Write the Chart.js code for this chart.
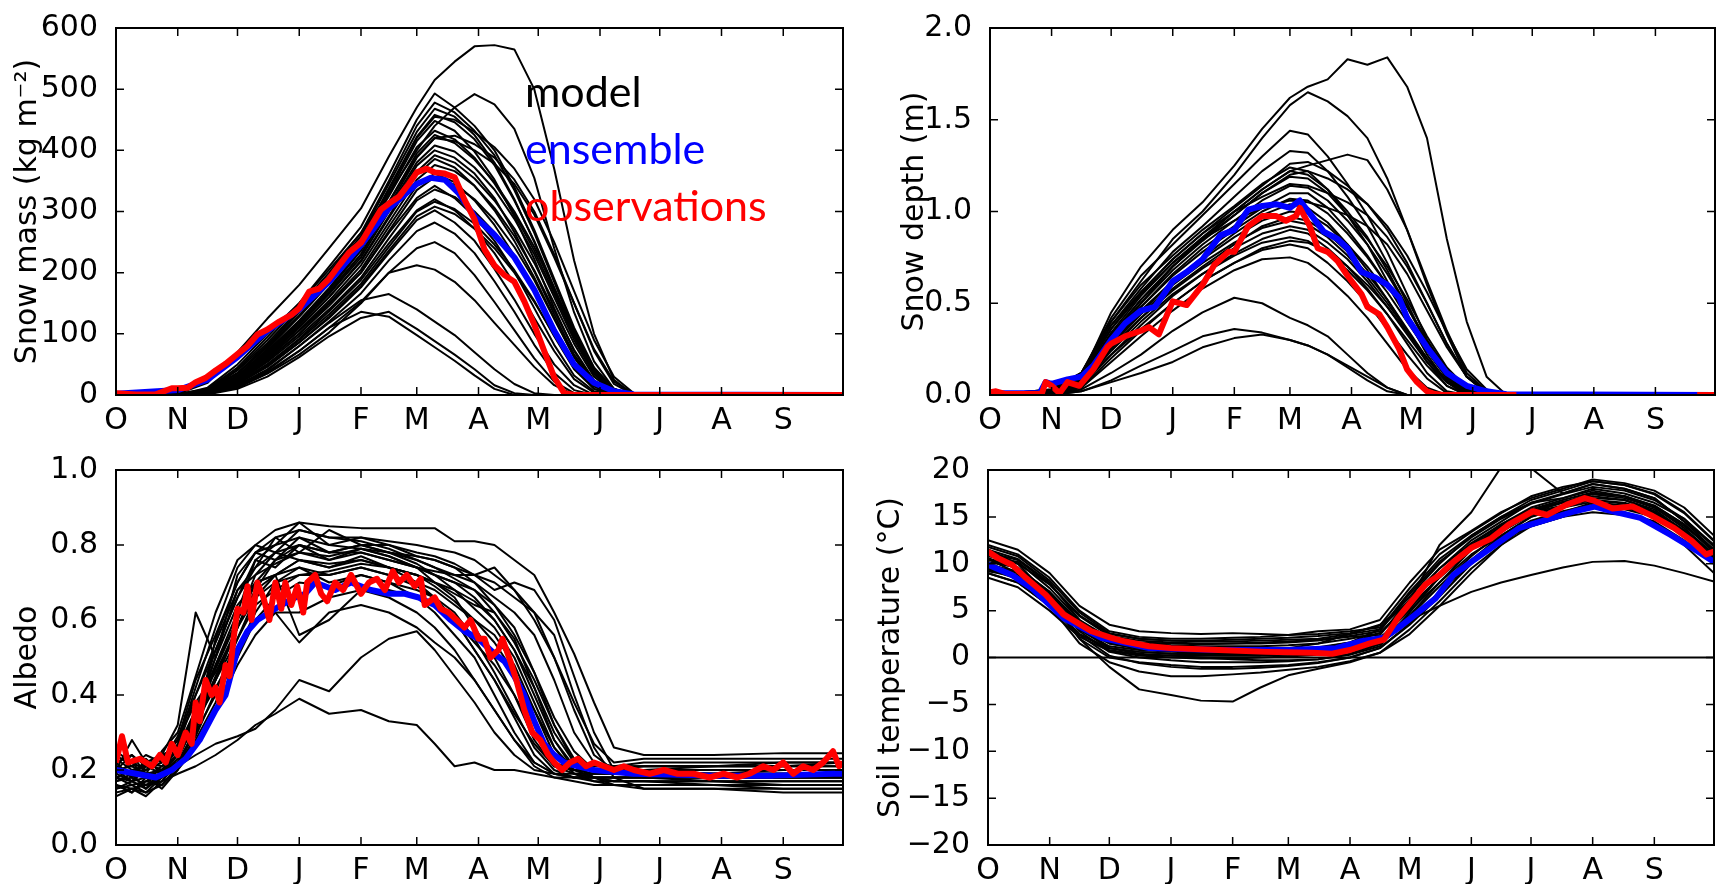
<!DOCTYPE html>
<html>
<head>
<meta charset="utf-8">
<script src="https://cdn.jsdelivr.net/npm/chart.js@4.4.1/dist/chart.umd.min.js"></script>
<style>
  body { margin: 0; background: #fff; width: 1719px; height: 884px; position: relative; overflow: hidden; }
  canvas { position: absolute; }
  .key { position: absolute; left: 525px; font-family: Lato, "Open Sans", sans-serif; font-size: 43px; line-height: 43px; white-space: nowrap; }
</style>
</head>
<body>
<canvas id="massChart" width="860" height="440" style="left:0;top:0"></canvas>
<canvas id="depthChart" width="849" height="440" style="left:870px;top:0"></canvas>
<canvas id="albedoChart" width="860" height="444" style="left:0;top:440px"></canvas>
<canvas id="soilChart" width="849" height="444" style="left:870px;top:440px"></canvas>
<div class="key" style="top:69px;color:#000">model</div>
<div class="key" style="top:126px;color:#0000ff">ensemble</div>
<div class="key" style="top:183px;color:#ff0000">observations</div>
<script>
// day of water year (0 = 1 Oct) and month labels
const monthDays = [0, 31, 61, 92, 123, 151, 182, 212, 243, 273, 304, 335];
const monthNames = ['O', 'N', 'D', 'J', 'F', 'M', 'A', 'M', 'J', 'J', 'A', 'S'];

// ---------- snow mass (kg m-2) ----------
const snowDays = [0, 31, 46, 61, 76, 92, 107, 123, 137, 151, 160, 170, 180, 190, 200, 210, 220, 230, 240, 250, 260, 365];
const massModels = [
  [0, 2, 20, 70, 125, 180, 240, 305, 390, 470, 515, 545, 570, 572, 565, 500, 370, 220, 100, 25, 0, 0],
  [0, 0, 12, 50, 100, 150, 205, 265, 330, 400, 440, 470, 492, 475, 435, 355, 240, 135, 55, 10, 0, 0],
  [0, 0, 10, 45, 95, 150, 210, 275, 360, 450, 493, 470, 440, 400, 340, 270, 190, 110, 45, 10, 0, 0],
  [0, 0, 8, 40, 85, 140, 195, 260, 345, 430, 468, 455, 425, 380, 320, 250, 170, 95, 35, 5, 0, 0],
  [0, 0, 6, 32, 75, 128, 182, 245, 330, 415, 448, 432, 398, 352, 292, 222, 142, 72, 22, 2, 0, 0],
  [0, 2, 10, 35, 78, 130, 185, 250, 325, 405, 432, 418, 388, 346, 296, 236, 166, 96, 42, 10, 0, 0],
  [0, 0, 6, 28, 66, 115, 165, 225, 300, 375, 400, 388, 362, 322, 266, 202, 132, 66, 22, 3, 0, 0],
  [0, 0, 5, 25, 62, 110, 160, 218, 290, 360, 386, 372, 342, 302, 252, 192, 126, 62, 16, 0, 0, 0],
  [0, 0, 4, 22, 58, 100, 150, 205, 275, 342, 362, 348, 318, 278, 228, 168, 102, 46, 10, 0, 0, 0],
  [0, 0, 5, 24, 60, 105, 150, 200, 265, 322, 342, 322, 292, 252, 202, 142, 82, 32, 6, 0, 0, 0],
  [0, 0, 4, 20, 50, 92, 137, 188, 248, 302, 320, 302, 272, 232, 182, 126, 72, 26, 4, 0, 0, 0],
  [0, 0, 3, 18, 46, 86, 126, 176, 232, 286, 302, 282, 252, 206, 156, 100, 50, 16, 0, 0, 0, 0],
  [0, 0, 3, 16, 42, 80, 120, 166, 220, 268, 282, 264, 232, 186, 136, 82, 36, 8, 0, 0, 0, 0],
  [0, 0, 2, 14, 38, 72, 110, 152, 200, 240, 250, 232, 196, 152, 106, 60, 22, 3, 0, 0, 0, 0],
  [0, 0, 2, 12, 35, 66, 102, 150, 200, 212, 205, 185, 155, 118, 82, 46, 16, 0, 0, 0, 0, 0],
  [0, 0, 2, 12, 36, 72, 110, 136, 128, 98, 78, 56, 32, 10, 0, 0, 0, 0, 0, 0, 0, 0],
  [0, 0, 1, 10, 30, 62, 96, 126, 136, 108, 88, 66, 42, 16, 3, 0, 0, 0, 0, 0, 0, 0],
  [0, 0, 3, 14, 40, 80, 118, 155, 165, 140, 120, 98, 70, 42, 18, 3, 0, 0, 0, 0, 0, 0],
  [0, 0, 7, 35, 80, 135, 190, 255, 335, 420, 455, 450, 430, 405, 370, 320, 250, 170, 90, 30, 3, 0],
  [0, 0, 5, 30, 72, 122, 175, 238, 315, 390, 420, 415, 400, 378, 345, 295, 225, 150, 75, 22, 2, 0],
  [0, 0, 9, 42, 90, 145, 200, 265, 350, 440, 478, 462, 432, 392, 335, 265, 185, 105, 40, 8, 0, 0],
  [0, 0, 7, 36, 82, 136, 190, 252, 338, 422, 458, 446, 418, 376, 318, 252, 176, 100, 38, 6, 0, 0],
  [0, 0, 6, 30, 72, 120, 172, 236, 316, 395, 425, 412, 385, 348, 300, 242, 174, 104, 44, 10, 0, 0],
  [0, 0, 5, 27, 68, 118, 168, 230, 305, 380, 408, 398, 372, 336, 288, 230, 160, 90, 34, 5, 0, 0],
  [0, 0, 5, 26, 64, 112, 160, 220, 292, 365, 392, 380, 354, 318, 272, 216, 150, 84, 30, 4, 0, 0],
  [0, 0, 4, 24, 60, 106, 154, 212, 282, 352, 376, 366, 342, 306, 260, 204, 138, 74, 24, 2, 0, 0],
  [0, 0, 4, 22, 56, 100, 146, 200, 268, 335, 356, 344, 320, 286, 242, 188, 124, 62, 18, 0, 0, 0],
  [0, 0, 4, 21, 54, 96, 140, 192, 256, 318, 336, 324, 300, 266, 224, 172, 110, 52, 14, 0, 0, 0],
  [0, 0, 3, 19, 50, 90, 132, 182, 242, 300, 316, 304, 280, 246, 204, 154, 96, 42, 10, 0, 0, 0],
  [0, 0, 3, 18, 48, 86, 128, 178, 236, 292, 308, 296, 272, 240, 200, 152, 98, 46, 14, 0, 0, 0],
  [0, 0, 6, 30, 70, 118, 168, 230, 308, 388, 420, 424, 410, 388, 352, 300, 230, 150, 72, 18, 0, 0]
];
const ensMassDays = [0, 31, 46, 61, 76, 92, 107, 123, 137, 151, 158, 165, 172, 180, 190, 200, 210, 220, 230, 240, 250, 260, 365];
const ensMass = [2, 8, 25, 62, 105, 140, 185, 245, 305, 345, 355, 352, 330, 292, 262, 225, 172, 105, 50, 20, 6, 1, 0];
const obsMassDays = [0, 10, 20, 28, 31, 36, 40, 45, 50, 55, 61, 66, 71, 76, 82, 88, 92, 97, 102, 107, 112, 117, 123, 128, 133, 137, 142, 147, 151, 156, 160, 165, 170, 175, 180, 185, 190, 195, 200, 205, 210, 215, 220, 225, 230, 365];
const obsMass = [3, 1, 1, 11, 11, 12, 21, 28, 40, 51, 67, 80, 99, 107, 120, 131, 142, 169, 174, 190, 212, 233, 249, 276, 303, 313, 324, 345, 364, 370, 364, 362, 356, 319, 287, 238, 212, 196, 185, 153, 115, 72, 29, 3, 0, 0];

// ---------- snow depth (m) ----------
const depthModels = [
  [0, 0.02, 0.10, 0.45, 0.70, 0.90, 1.05, 1.25, 1.45, 1.62, 1.68, 1.72, 1.83, 1.80, 1.84, 1.68, 1.40, 0.85, 0.40, 0.10, 0, 0],
  [0, 0.02, 0.12, 0.40, 0.62, 0.85, 1.00, 1.20, 1.40, 1.58, 1.65, 1.60, 1.52, 1.40, 1.18, 0.90, 0.60, 0.33, 0.10, 0.01, 0, 0],
  [0, 0.03, 0.12, 0.42, 0.65, 0.82, 0.98, 1.15, 1.30, 1.44, 1.42, 1.30, 1.15, 0.98, 0.78, 0.55, 0.30, 0.12, 0.03, 0, 0, 0],
  [0, 0.02, 0.08, 0.30, 0.50, 0.70, 0.85, 1.00, 1.12, 1.22, 1.25, 1.28, 1.31, 1.28, 1.12, 0.90, 0.62, 0.35, 0.12, 0.02, 0, 0],
  [0, 0.02, 0.10, 0.38, 0.58, 0.78, 0.92, 1.08, 1.22, 1.33, 1.32, 1.22, 1.08, 0.92, 0.72, 0.50, 0.28, 0.10, 0.02, 0, 0, 0],
  [0, 0.03, 0.12, 0.40, 0.60, 0.76, 0.90, 1.03, 1.15, 1.24, 1.22, 1.12, 0.98, 0.82, 0.62, 0.42, 0.22, 0.07, 0, 0, 0, 0],
  [0, 0.02, 0.08, 0.32, 0.52, 0.70, 0.85, 0.98, 1.10, 1.19, 1.18, 1.10, 0.98, 0.85, 0.70, 0.52, 0.32, 0.15, 0.04, 0, 0, 0],
  [0, 0.02, 0.08, 0.30, 0.48, 0.66, 0.80, 0.92, 1.02, 1.10, 1.10, 1.02, 0.90, 0.76, 0.60, 0.42, 0.24, 0.09, 0.01, 0, 0, 0],
  [0, 0.01, 0.06, 0.28, 0.45, 0.62, 0.75, 0.88, 0.98, 1.04, 1.02, 0.94, 0.82, 0.68, 0.52, 0.35, 0.18, 0.05, 0, 0, 0, 0],
  [0, 0.01, 0.05, 0.25, 0.42, 0.58, 0.70, 0.82, 0.92, 0.97, 0.95, 0.88, 0.78, 0.66, 0.52, 0.36, 0.20, 0.07, 0, 0, 0, 0],
  [0, 0.01, 0.05, 0.22, 0.38, 0.54, 0.66, 0.77, 0.85, 0.90, 0.88, 0.80, 0.70, 0.58, 0.44, 0.28, 0.12, 0.02, 0, 0, 0, 0],
  [0, 0.01, 0.04, 0.20, 0.35, 0.50, 0.62, 0.72, 0.79, 0.82, 0.80, 0.72, 0.62, 0.50, 0.36, 0.22, 0.09, 0.01, 0, 0, 0, 0],
  [0, 0, 0.04, 0.18, 0.32, 0.46, 0.58, 0.68, 0.74, 0.75, 0.72, 0.64, 0.54, 0.42, 0.28, 0.14, 0.04, 0, 0, 0, 0, 0],
  [0, 0, 0.03, 0.12, 0.22, 0.35, 0.45, 0.53, 0.50, 0.42, 0.38, 0.32, 0.22, 0.12, 0.04, 0, 0, 0, 0, 0, 0, 0],
  [0, 0, 0.02, 0.08, 0.16, 0.24, 0.32, 0.36, 0.34, 0.30, 0.27, 0.22, 0.15, 0.08, 0.02, 0, 0, 0, 0, 0, 0, 0],
  [0, 0, 0.02, 0.07, 0.12, 0.18, 0.26, 0.31, 0.33, 0.30, 0.27, 0.22, 0.16, 0.10, 0.04, 0, 0, 0, 0, 0, 0, 0],
  [0, 0.02, 0.10, 0.36, 0.55, 0.72, 0.85, 0.95, 1.02, 1.06, 1.05, 1.02, 0.98, 0.92, 0.82, 0.66, 0.46, 0.26, 0.10, 0.02, 0, 0],
  [0, 0.03, 0.12, 0.38, 0.56, 0.74, 0.88, 1.00, 1.08, 1.15, 1.14, 1.10, 1.05, 0.98, 0.86, 0.70, 0.50, 0.28, 0.10, 0.01, 0, 0],
  [0, 0.02, 0.09, 0.34, 0.54, 0.72, 0.86, 1.00, 1.12, 1.22, 1.20, 1.12, 1.00, 0.86, 0.68, 0.48, 0.28, 0.12, 0.03, 0, 0, 0],
  [0, 0.02, 0.08, 0.32, 0.50, 0.68, 0.82, 0.95, 1.06, 1.14, 1.13, 1.06, 0.95, 0.82, 0.66, 0.48, 0.30, 0.14, 0.04, 0, 0, 0],
  [0, 0.01, 0.07, 0.30, 0.48, 0.65, 0.78, 0.90, 1.00, 1.07, 1.06, 0.99, 0.88, 0.75, 0.60, 0.44, 0.27, 0.12, 0.03, 0, 0, 0],
  [0, 0.01, 0.07, 0.28, 0.46, 0.62, 0.74, 0.86, 0.95, 1.00, 0.99, 0.92, 0.82, 0.70, 0.56, 0.40, 0.24, 0.10, 0.02, 0, 0, 0],
  [0, 0.01, 0.06, 0.27, 0.44, 0.60, 0.72, 0.83, 0.91, 0.95, 0.93, 0.86, 0.76, 0.64, 0.50, 0.35, 0.20, 0.08, 0.01, 0, 0, 0],
  [0, 0.01, 0.06, 0.26, 0.42, 0.57, 0.69, 0.80, 0.88, 0.92, 0.90, 0.83, 0.74, 0.62, 0.48, 0.33, 0.18, 0.07, 0.01, 0, 0, 0],
  [0, 0.01, 0.05, 0.24, 0.40, 0.55, 0.66, 0.76, 0.83, 0.86, 0.84, 0.77, 0.68, 0.57, 0.44, 0.30, 0.16, 0.05, 0, 0, 0, 0],
  [0, 0.02, 0.10, 0.36, 0.56, 0.74, 0.88, 1.02, 1.14, 1.26, 1.27, 1.22, 1.14, 1.04, 0.90, 0.72, 0.50, 0.28, 0.10, 0.02, 0, 0],
  [0, 0.02, 0.09, 0.33, 0.52, 0.70, 0.84, 0.98, 1.10, 1.20, 1.22, 1.18, 1.12, 1.04, 0.92, 0.76, 0.56, 0.34, 0.14, 0.03, 0, 0],
  [0, 0.01, 0.05, 0.22, 0.36, 0.50, 0.62, 0.72, 0.80, 0.84, 0.83, 0.78, 0.70, 0.60, 0.48, 0.34, 0.20, 0.08, 0.01, 0, 0, 0]
];
const ensDepthDays = [0, 25, 28, 31, 39, 46, 52, 61, 68, 76, 83, 92, 99, 107, 116, 123, 130, 137, 144, 151, 156, 161, 168, 175, 180, 187, 194, 200, 206, 210, 220, 230, 240, 250, 260, 365];
const ensDepth = [0.01, 0.01, 0.07, 0.06, 0.085, 0.10, 0.16, 0.30, 0.39, 0.46, 0.48, 0.62, 0.67, 0.74, 0.87, 0.90, 1.01, 1.03, 1.04, 1.02, 1.06, 0.99, 0.89, 0.85, 0.80, 0.67, 0.64, 0.60, 0.53, 0.42, 0.26, 0.12, 0.05, 0.02, 0.004, 0];
// no depth observations between day 266 and 355
const obsDepthDays = [0, 3, 8, 26, 28, 31, 35, 39, 45, 52, 59, 61, 68, 76, 80, 85, 90, 92, 99, 107, 113, 120, 123, 130, 137, 144, 149, 154, 156, 161, 165, 170, 175, 180, 187, 190, 196, 200, 206, 210, 215, 220, 224, 228, 265, 266, 355, 356, 365];
const obsDepth = [0.015, 0.02, 0.005, 0.005, 0.07, 0.05, 0.01, 0.07, 0.05, 0.14, 0.26, 0.28, 0.32, 0.35, 0.37, 0.33, 0.46, 0.51, 0.49, 0.60, 0.71, 0.78, 0.78, 0.92, 0.975, 0.975, 0.95, 0.975, 1.02, 0.92, 0.80, 0.78, 0.73, 0.65, 0.55, 0.48, 0.44, 0.37, 0.25, 0.14, 0.07, 0.02, 0.005, 0, 0, null, null, 0, 0];

// ---------- albedo ----------
const albDays = [0, 8, 15, 23, 31, 40, 50, 61, 70, 80, 92, 107, 123, 137, 151, 160, 170, 180, 190, 200, 210, 220, 230, 240, 250, 265, 300, 335, 365];
const albedoModels = [
  [0.20, 0.24, 0.19, 0.25, 0.30, 0.45, 0.62, 0.76, 0.80, 0.84, 0.86, 0.85, 0.845, 0.845, 0.845, 0.845, 0.81, 0.81, 0.80, 0.76, 0.72, 0.62, 0.51, 0.38, 0.26, 0.24, 0.24, 0.245, 0.245],
  [0.16, 0.14, 0.18, 0.15, 0.20, 0.32, 0.55, 0.70, 0.78, 0.80, 0.86, 0.80, 0.82, 0.80, 0.78, 0.77, 0.75, 0.72, 0.68, 0.70, 0.68, 0.60, 0.45, 0.30, 0.20, 0.18, 0.17, 0.17, 0.17],
  [0.22, 0.18, 0.22, 0.20, 0.26, 0.40, 0.52, 0.66, 0.74, 0.82, 0.78, 0.84, 0.80, 0.80, 0.77, 0.76, 0.74, 0.72, 0.74, 0.68, 0.62, 0.50, 0.36, 0.24, 0.20, 0.21, 0.21, 0.21, 0.22],
  [0.14, 0.15, 0.13, 0.17, 0.22, 0.30, 0.48, 0.62, 0.76, 0.74, 0.80, 0.78, 0.78, 0.76, 0.74, 0.72, 0.70, 0.68, 0.64, 0.58, 0.46, 0.32, 0.22, 0.18, 0.16, 0.15, 0.15, 0.14, 0.14],
  [0.25, 0.22, 0.20, 0.23, 0.28, 0.38, 0.46, 0.58, 0.70, 0.72, 0.76, 0.74, 0.77, 0.74, 0.72, 0.70, 0.67, 0.64, 0.62, 0.55, 0.42, 0.28, 0.21, 0.20, 0.20, 0.20, 0.19, 0.20, 0.20],
  [0.18, 0.16, 0.17, 0.19, 0.24, 0.36, 0.44, 0.55, 0.64, 0.68, 0.72, 0.72, 0.74, 0.72, 0.70, 0.68, 0.64, 0.60, 0.56, 0.48, 0.36, 0.24, 0.19, 0.18, 0.18, 0.18, 0.18, 0.18, 0.18],
  [0.20, 0.21, 0.19, 0.20, 0.22, 0.30, 0.40, 0.50, 0.60, 0.66, 0.70, 0.69, 0.72, 0.70, 0.68, 0.66, 0.62, 0.55, 0.46, 0.36, 0.26, 0.20, 0.18, 0.17, 0.17, 0.17, 0.16, 0.16, 0.16],
  [0.13, 0.15, 0.14, 0.16, 0.20, 0.26, 0.36, 0.48, 0.56, 0.62, 0.62, 0.66, 0.68, 0.68, 0.66, 0.64, 0.60, 0.52, 0.44, 0.34, 0.24, 0.19, 0.18, 0.18, 0.18, 0.18, 0.18, 0.18, 0.18],
  [0.21, 0.19, 0.22, 0.21, 0.24, 0.34, 0.50, 0.68, 0.74, 0.78, 0.76, 0.74, 0.76, 0.74, 0.70, 0.66, 0.60, 0.54, 0.48, 0.40, 0.30, 0.22, 0.20, 0.20, 0.21, 0.21, 0.21, 0.22, 0.22],
  [0.17, 0.18, 0.16, 0.18, 0.23, 0.33, 0.45, 0.58, 0.66, 0.72, 0.74, 0.70, 0.72, 0.70, 0.66, 0.62, 0.56, 0.50, 0.40, 0.30, 0.22, 0.19, 0.19, 0.19, 0.19, 0.19, 0.19, 0.19, 0.19],
  [0.15, 0.17, 0.15, 0.18, 0.21, 0.28, 0.38, 0.52, 0.60, 0.62, 0.54, 0.62, 0.64, 0.62, 0.58, 0.54, 0.50, 0.44, 0.36, 0.28, 0.21, 0.18, 0.17, 0.16, 0.16, 0.16, 0.16, 0.15, 0.15],
  [0.23, 0.20, 0.21, 0.24, 0.26, 0.36, 0.48, 0.60, 0.70, 0.76, 0.80, 0.78, 0.80, 0.78, 0.76, 0.74, 0.72, 0.70, 0.66, 0.62, 0.56, 0.44, 0.30, 0.22, 0.21, 0.22, 0.22, 0.22, 0.22],
  [0.16, 0.15, 0.16, 0.17, 0.19, 0.21, 0.24, 0.28, 0.32, 0.35, 0.39, 0.35, 0.36, 0.33, 0.32, 0.27, 0.21, 0.22, 0.20, 0.20, 0.19, 0.18, 0.18, 0.18, 0.17, 0.17, 0.17, 0.16, 0.16],
  [0.18, 0.17, 0.18, 0.19, 0.21, 0.24, 0.27, 0.29, 0.31, 0.36, 0.44, 0.41, 0.50, 0.55, 0.57, 0.52, 0.45, 0.38, 0.30, 0.24, 0.20, 0.19, 0.18, 0.18, 0.18, 0.18, 0.18, 0.18, 0.18],
  [0.20, 0.28, 0.22, 0.24, 0.32, 0.62, 0.50, 0.72, 0.78, 0.76, 0.82, 0.80, 0.79, 0.77, 0.74, 0.70, 0.66, 0.58, 0.50, 0.40, 0.28, 0.21, 0.20, 0.20, 0.20, 0.20, 0.21, 0.21, 0.21],
  [0.19, 0.17, 0.20, 0.22, 0.25, 0.36, 0.50, 0.64, 0.70, 0.72, 0.56, 0.60, 0.68, 0.66, 0.62, 0.58, 0.52, 0.44, 0.36, 0.28, 0.22, 0.19, 0.18, 0.18, 0.18, 0.18, 0.18, 0.18, 0.18],
  [0.18, 0.20, 0.18, 0.20, 0.24, 0.32, 0.44, 0.58, 0.68, 0.76, 0.78, 0.76, 0.78, 0.76, 0.74, 0.73, 0.72, 0.72, 0.70, 0.66, 0.62, 0.56, 0.40, 0.26, 0.18, 0.15, 0.15, 0.15, 0.15],
  [0.21, 0.18, 0.23, 0.19, 0.27, 0.42, 0.58, 0.74, 0.80, 0.78, 0.84, 0.82, 0.81, 0.79, 0.76, 0.74, 0.71, 0.68, 0.62, 0.54, 0.44, 0.32, 0.23, 0.20, 0.20, 0.20, 0.20, 0.20, 0.20],
  [0.17, 0.19, 0.15, 0.20, 0.24, 0.35, 0.52, 0.66, 0.76, 0.80, 0.82, 0.78, 0.80, 0.78, 0.75, 0.72, 0.68, 0.63, 0.58, 0.50, 0.38, 0.26, 0.20, 0.19, 0.19, 0.19, 0.19, 0.19, 0.19],
  [0.24, 0.21, 0.24, 0.22, 0.29, 0.40, 0.54, 0.68, 0.72, 0.78, 0.80, 0.76, 0.79, 0.77, 0.74, 0.72, 0.70, 0.66, 0.60, 0.52, 0.42, 0.30, 0.22, 0.21, 0.21, 0.21, 0.21, 0.21, 0.21],
  [0.15, 0.16, 0.14, 0.18, 0.22, 0.31, 0.44, 0.58, 0.68, 0.72, 0.76, 0.75, 0.76, 0.74, 0.72, 0.69, 0.65, 0.60, 0.54, 0.46, 0.36, 0.26, 0.19, 0.17, 0.16, 0.16, 0.16, 0.16, 0.16],
  [0.19, 0.22, 0.18, 0.21, 0.25, 0.34, 0.47, 0.60, 0.72, 0.75, 0.78, 0.77, 0.79, 0.78, 0.77, 0.76, 0.74, 0.70, 0.64, 0.56, 0.46, 0.34, 0.25, 0.20, 0.19, 0.19, 0.19, 0.19, 0.19],
  [0.20, 0.17, 0.21, 0.19, 0.23, 0.33, 0.42, 0.52, 0.62, 0.70, 0.74, 0.72, 0.74, 0.72, 0.69, 0.66, 0.60, 0.52, 0.44, 0.35, 0.27, 0.21, 0.19, 0.19, 0.19, 0.19, 0.19, 0.19, 0.19],
  [0.16, 0.14, 0.17, 0.16, 0.21, 0.29, 0.41, 0.55, 0.66, 0.70, 0.72, 0.73, 0.75, 0.74, 0.72, 0.70, 0.68, 0.65, 0.60, 0.52, 0.40, 0.28, 0.20, 0.18, 0.17, 0.17, 0.17, 0.17, 0.17],
  [0.22, 0.24, 0.21, 0.23, 0.28, 0.44, 0.56, 0.70, 0.78, 0.82, 0.84, 0.82, 0.82, 0.81, 0.80, 0.79, 0.78, 0.76, 0.72, 0.68, 0.60, 0.50, 0.38, 0.27, 0.22, 0.23, 0.23, 0.23, 0.23]
];
const ensAlbDays = [0, 10, 20, 28, 35, 42, 50, 55, 61, 66, 71, 77, 83, 90, 95, 100, 110, 118, 128, 137, 145, 152, 160, 168, 175, 182, 190, 195, 200, 205, 210, 215, 220, 225, 232, 240, 260, 300, 330, 360, 365];
const ensAlbedo = [0.20, 0.19, 0.18, 0.20, 0.23, 0.28, 0.36, 0.40, 0.52, 0.57, 0.60, 0.62, 0.64, 0.66, 0.67, 0.70, 0.68, 0.70, 0.68, 0.67, 0.67, 0.66, 0.64, 0.60, 0.57, 0.55, 0.51, 0.49, 0.45, 0.40, 0.33, 0.27, 0.24, 0.22, 0.21, 0.20, 0.19, 0.185, 0.185, 0.19, 0.19];
const obsAlbDays = [0, 3, 6, 12, 18, 22, 25, 28, 31, 35, 38, 40, 42, 45, 48, 50, 52, 55, 57, 59, 61, 64, 66, 68, 71, 74, 77, 80, 83, 85, 88, 91, 94, 96, 100, 103, 106, 110, 114, 118, 123, 127, 131, 135, 139, 142, 146, 150, 153, 155, 160, 163, 167, 171, 175, 178, 182, 185, 188, 192, 194, 198, 201, 205, 209, 213, 217, 220, 224, 228, 232, 236, 240, 245, 250, 255, 260, 268, 275, 282, 290, 298, 305, 312, 318, 325, 330, 335, 340, 345, 350, 355, 360, 363, 365];
const obsAlbedo = [0.22, 0.29, 0.22, 0.23, 0.21, 0.24, 0.22, 0.27, 0.24, 0.30, 0.27, 0.38, 0.33, 0.44, 0.40, 0.42, 0.38, 0.48, 0.45, 0.55, 0.63, 0.62, 0.69, 0.60, 0.70, 0.66, 0.60, 0.70, 0.63, 0.70, 0.64, 0.69, 0.62, 0.70, 0.72, 0.67, 0.65, 0.70, 0.68, 0.72, 0.67, 0.70, 0.71, 0.68, 0.73, 0.70, 0.72, 0.69, 0.71, 0.64, 0.66, 0.63, 0.62, 0.60, 0.58, 0.60, 0.55, 0.55, 0.50, 0.52, 0.55, 0.49, 0.44, 0.36, 0.30, 0.28, 0.24, 0.22, 0.20, 0.22, 0.23, 0.21, 0.22, 0.21, 0.20, 0.21, 0.20, 0.19, 0.20, 0.19, 0.19, 0.18, 0.19, 0.18, 0.19, 0.21, 0.20, 0.22, 0.19, 0.21, 0.20, 0.22, 0.25, 0.21, 0.22];

// ---------- soil temperature (degC) ----------
const soilDays = [0, 15, 31, 46, 61, 76, 92, 107, 123, 137, 151, 166, 182, 197, 212, 227, 243, 258, 273, 289, 304, 320, 335, 350, 365];
const soilModels = [
  [12.5, 11.5, 9.0, 5.5, 3.5, 2.8, 2.6, 2.5, 2.6, 2.5, 2.4, 2.5, 2.8, 3.2, 6.0, 9.5, 12.5, 14.5, 16.5, 17.5, 18.5, 18.0, 17.0, 14.5, 12.0],
  [11.0, 10.0, 7.8, 4.5, 2.5, 2.0, 1.8, 1.7, 1.7, 1.8, 1.9, 2.0, 2.5, 3.0, 6.5, 10.0, 13.0, 15.0, 16.8, 17.8, 18.8, 18.4, 17.5, 15.5, 12.5],
  [10.5, 9.5, 7.0, 3.8, 2.0, 1.5, 1.3, 1.2, 1.2, 1.2, 1.3, 1.5, 2.0, 2.6, 5.5, 8.5, 11.5, 13.5, 15.5, 16.5, 17.5, 17.2, 16.0, 14.0, 11.5],
  [9.5, 8.5, 6.0, 3.0, 1.2, 0.8, 0.6, 0.5, 0.5, 0.5, 0.6, 0.8, 1.2, 2.0, 5.0, 8.0, 11.0, 13.0, 15.0, 16.0, 17.0, 16.8, 15.8, 13.5, 11.0],
  [9.0, 8.0, 5.5, 2.5, 0.8, 0.3, 0.2, 0.2, 0.2, 0.2, 0.3, 0.5, 1.0, 1.8, 4.0, 7.0, 10.0, 12.5, 14.5, 15.5, 16.0, 15.8, 15.0, 13.0, 10.5],
  [10.0, 9.0, 6.0, 2.0, 0.0, -0.5, -0.8, -1.0, -1.0, -0.9, -0.8, -0.5, 0.0, 1.0, 3.5, 6.5, 10.0, 12.5, 14.0, 15.0, 15.5, 15.2, 14.5, 12.5, 10.0],
  [10.5, 9.0, 5.5, 1.5, -0.5, -1.5, -2.0, -2.0, -1.8, -1.6, -1.3, -1.0, -0.4, 0.5, 3.0, 6.0, 9.5, 12.0, 14.0, 15.0, 16.0, 15.5, 14.5, 12.0, 9.0],
  [11.5, 10.0, 6.5, 2.0, -1.0, -3.4, -4.0, -4.6, -4.7, -3.2, -1.9, -1.2, -0.5, 0.5, 2.5, 5.5, 9.0, 12.0, 14.5, 15.5, 16.5, 16.2, 15.5, 13.0, 10.0],
  [10.0, 9.0, 6.5, 3.0, 1.5, 1.0, 0.8, 0.7, 0.7, 0.8, 1.0, 1.5, 2.5, 3.5, 6.0, 12.0, 15.5, 20.3, 20.2, 17.5, 18.5, 18.0, 17.0, 14.5, 11.5],
  [9.0, 8.0, 5.5, 2.5, 1.0, 0.6, 0.4, 0.4, 0.4, 0.4, 0.5, 0.8, 1.4, 2.2, 4.0, 5.5, 7.0, 8.0, 8.8, 9.6, 10.2, 10.3, 9.8, 9.0, 8.1],
  [8.5, 7.5, 5.0, 2.2, 0.7, 0.2, 0.0, -0.1, -0.1, 0.0, 0.1, 0.3, 0.8, 1.8, 4.5, 8.0, 11.5, 14.0, 15.5, 16.2, 16.8, 16.5, 15.5, 13.5, 10.5],
  [12.0, 11.0, 8.5, 5.0, 2.8, 2.2, 2.0, 2.0, 2.1, 2.2, 2.4, 2.8, 3.0, 4.0, 8.0, 11.5, 13.5, 15.5, 17.0, 18.0, 19.0, 18.6, 17.8, 16.0, 13.0],
  [11.5, 10.5, 8.0, 4.0, 1.8, 1.0, 0.8, 0.6, 0.6, 0.6, 0.7, 1.0, 1.6, 3.0, 7.0, 10.5, 13.0, 15.0, 16.5, 17.0, 18.0, 17.5, 16.5, 14.8, 12.0],
  [9.8, 9.2, 6.8, 3.4, 1.5, 0.9, 0.7, 0.6, 0.5, 0.4, 0.3, 0.3, 0.6, 1.5, 3.8, 7.0, 10.2, 12.8, 14.6, 15.6, 16.3, 16.0, 15.0, 13.2, 10.8],
  [10.8, 10.2, 7.4, 4.0, 2.1, 1.6, 1.5, 1.4, 1.5, 1.6, 1.7, 1.9, 2.2, 2.4, 6.2, 9.5, 12.2, 14.2, 16.0, 17.0, 17.8, 17.2, 16.2, 14.2, 11.2],
  [9.2, 8.6, 6.3, 3.2, 1.0, 0.4, 0.2, 0.0, -0.2, -0.3, -0.3, -0.2, 0.3, 1.2, 4.8, 8.6, 11.8, 14.0, 15.8, 16.6, 17.2, 16.8, 15.6, 13.6, 10.6],
  [10.2, 9.6, 7.0, 3.6, 1.6, 1.1, 0.9, 0.8, 0.8, 0.8, 0.9, 1.1, 1.6, 2.6, 5.8, 9.0, 12.0, 14.2, 15.8, 16.8, 17.6, 17.2, 16.2, 14.2, 11.4],
  [11.2, 10.4, 7.8, 4.4, 2.3, 1.8, 1.6, 1.5, 1.5, 1.5, 1.6, 1.8, 2.3, 2.8, 6.8, 10.2, 12.8, 14.8, 16.4, 17.4, 18.2, 17.8, 16.8, 14.8, 11.8],
  [9.6, 8.8, 6.2, 2.8, 0.6, 0.0, -0.3, -0.5, -0.5, -0.5, -0.4, -0.2, 0.4, 1.4, 4.4, 7.6, 10.8, 13.4, 15.2, 16.2, 16.8, 16.4, 15.4, 13.2, 10.4],
  [10.6, 9.6, 6.6, 3.0, 1.0, 0.6, 0.4, 0.3, 0.3, 0.3, 0.4, 0.6, 1.1, 2.0, 5.2, 8.6, 11.6, 13.8, 15.6, 16.6, 17.4, 17.0, 16.0, 13.8, 11.0],
  [9.4, 8.4, 5.8, 2.4, 0.2, -0.6, -1.0, -1.2, -1.2, -1.1, -0.9, -0.6, 0.0, 1.0, 3.6, 7.0, 10.4, 13.0, 15.0, 16.0, 16.6, 16.2, 15.2, 13.0, 10.2],
  [11.8, 10.8, 8.2, 4.8, 2.6, 2.0, 1.8, 1.8, 1.9, 2.0, 2.1, 2.3, 2.6, 3.4, 7.4, 11.0, 13.4, 15.4, 17.2, 18.2, 18.8, 18.4, 17.4, 15.4, 12.4]
];
const ensSoilDays = [0, 12, 22, 38, 57, 81, 116, 151, 175, 187, 199, 206, 215, 225, 234, 243, 253, 267, 281, 295, 305, 314, 328, 343, 354, 365];
const ensSoil = [9.9, 8.8, 7.4, 4.2, 2.1, 1.0, 0.8, 0.8, 1.0, 1.7, 2.1, 3.1, 4.6, 6.3, 8.8, 10.2, 11.7, 13.8, 14.7, 15.6, 16.1, 15.6, 14.9, 13.1, 11.7, 10.2];
const obsSoilDays = [0, 5, 12, 19, 29, 38, 45, 52, 62, 69, 81, 92, 116, 140, 163, 173, 182, 192, 199, 206, 213, 220, 227, 234, 243, 253, 262, 274, 281, 291, 300, 305, 314, 324, 333, 345, 354, 361, 365];
const obsSoil = [11.3, 10.6, 9.9, 8.5, 6.7, 4.6, 3.7, 2.8, 2.1, 1.7, 1.2, 1.0, 0.8, 0.6, 0.5, 0.4, 0.8, 1.5, 1.9, 4.2, 6.0, 7.8, 8.8, 10.2, 11.7, 12.7, 14.2, 15.6, 15.2, 16.3, 17.0, 16.7, 15.9, 16.1, 15.2, 13.8, 12.4, 11.0, 11.3];
const zeroDays = [0, 365];
const zeroLine = [0, 0];

Chart.defaults.font.family = '"DejaVu Sans", sans-serif';
Chart.defaults.font.size = 30;
Chart.defaults.color = '#000';

function points(days, vals) {
  return vals.map((v, i) => ({ x: days[i], y: v }));
}

// black frame plus inward tick marks on all four sides
const frameTicks = {
  id: 'frameTicks',
  afterDatasetsDraw(chart) {
    const { ctx, chartArea: a, scales: { x, y } } = chart;
    const len = 8;
    ctx.save();
    ctx.strokeStyle = '#000';
    ctx.lineWidth = 1.5;
    ctx.beginPath();
    x.ticks.forEach(t => {
      const p = x.getPixelForValue(t.value);
      ctx.moveTo(p, a.bottom); ctx.lineTo(p, a.bottom - len);
      ctx.moveTo(p, a.top); ctx.lineTo(p, a.top + len);
    });
    y.ticks.forEach(t => {
      const p = y.getPixelForValue(t.value);
      ctx.moveTo(a.left, p); ctx.lineTo(a.left + len, p);
      ctx.moveTo(a.right, p); ctx.lineTo(a.right - len, p);
    });
    ctx.stroke();
    ctx.lineWidth = 2;
    ctx.strokeRect(a.left, a.top, a.right - a.left, a.bottom - a.top);
    ctx.restore();
  }
};

function makePanel(id, cfg) {
  const datasets = [];
  datasets.push({ data: points(cfg.obsDays, cfg.obs), borderColor: '#ff0000', borderWidth: 6, order: 0 });
  datasets.push({ data: points(cfg.ensDays, cfg.ens), borderColor: '#0000ff', borderWidth: 6, order: 1 });
  if (cfg.zero) {
    datasets.push({ data: points(zeroDays, zeroLine), borderColor: '#000', borderWidth: 2, order: 2 });
  }
  cfg.models.forEach(m => {
    datasets.push({ data: points(cfg.modelDays, m), borderColor: '#000', borderWidth: 2, order: 3 });
  });
  datasets.forEach(d => { d.pointRadius = 0; d.tension = 0; d.clip = 0; d.spanGaps = false; d.borderJoinStyle = 'round'; });

  return new Chart(document.getElementById(id), {
    type: 'line',
    data: { datasets },
    options: {
      responsive: false,
      animation: false,
      events: [],
      layout: { padding: { top: cfg.padTop, right: cfg.padRight, left: 0, bottom: 0 } },
      plugins: { legend: { display: false }, tooltip: { enabled: false } },
      scales: {
        x: {
          type: 'linear', min: 0, max: 365,
          grid: { display: false }, border: { display: false },
          afterBuildTicks: s => { s.ticks = monthDays.map(v => ({ value: v })); },
          afterFit: s => { s.height = cfg.xHeight; },
          ticks: { autoSkip: false, maxRotation: 0, padding: 0,
            callback: v => monthNames[monthDays.indexOf(v)] }
        },
        y: {
          min: cfg.yMin, max: cfg.yMax,
          grid: { display: false }, border: { display: false },
          afterFit: s => { s.width = cfg.yWidth; },
          ticks: { stepSize: cfg.yStep, padding: 10, callback: cfg.yFormat },
          title: { display: true, text: cfg.yTitle, padding: { top: cfg.titlePad, bottom: 0 } }
        }
      }
    },
    plugins: [frameTicks]
  });
}

const intLabel = v => (v < 0 ? '\u2212' + Math.abs(v) : String(v));
const oneDecimal = v => v.toFixed(1);

makePanel('massChart', {
  modelDays: snowDays, models: massModels, ensDays: ensMassDays, ens: ensMass, obsDays: obsMassDays, obs: obsMass,
  yMin: 0, yMax: 600, yStep: 100, yFormat: intLabel, yTitle: 'Snow mass (kg m\u207B\u00B2)',
  yWidth: 116, xHeight: 45, padTop: 20, padRight: 17, titlePad: 10
});
makePanel('depthChart', {
  modelDays: snowDays, models: depthModels, ensDays: ensDepthDays, ens: ensDepth, obsDays: obsDepthDays, obs: obsDepth,
  yMin: 0, yMax: 2, yStep: 0.5, yFormat: oneDecimal, yTitle: 'Snow depth (m)',
  yWidth: 120, xHeight: 45, padTop: 20, padRight: 4, titlePad: 27
});
makePanel('albedoChart', {
  modelDays: albDays, models: albedoModels, ensDays: ensAlbDays, ens: ensAlbedo, obsDays: obsAlbDays, obs: obsAlbedo,
  yMin: 0, yMax: 1, yStep: 0.2, yFormat: oneDecimal, yTitle: 'Albedo',
  yWidth: 116, xHeight: 39, padTop: 30, padRight: 17, titlePad: 10
});
makePanel('soilChart', {
  modelDays: soilDays, models: soilModels, ensDays: ensSoilDays, ens: ensSoil, obsDays: obsSoilDays, obs: obsSoil, zero: true,
  yMin: -20, yMax: 20, yStep: 5, yFormat: intLabel, yTitle: 'Soil temperature (\u00B0C)',
  yWidth: 118, xHeight: 39, padTop: 30, padRight: 5, titlePad: 3
});
</script>
</body>
</html>
